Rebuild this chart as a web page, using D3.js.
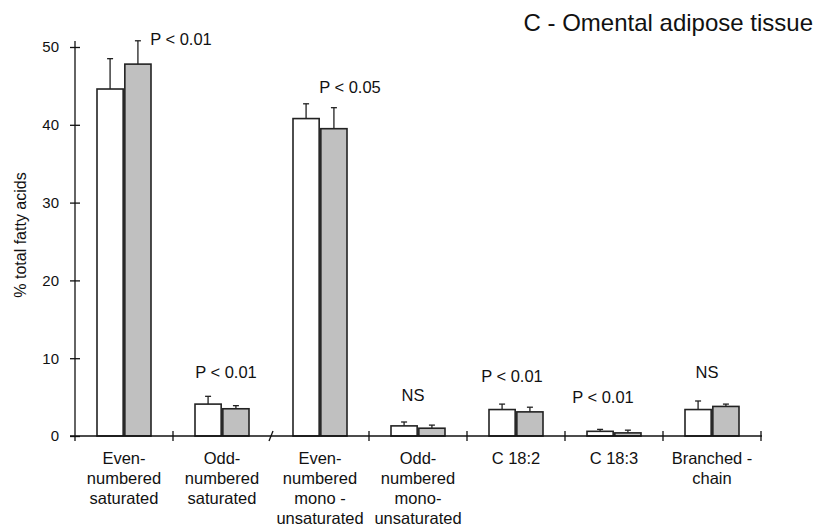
<!DOCTYPE html>
<html>
<head>
  <meta charset="utf-8">
  <title>Omental adipose tissue</title>
  <script src="https://d3js.org/d3.v7.min.js"></script>
  <style>
    body { margin: 0; background: #fff; }
    text { font-family: "Liberation Sans", Arial, sans-serif; fill: #111; }
  </style>
</head>
<body>
<div id="chart"></div>
<script>
  // data
  let categories = ['evenSat', 'oddSat', 'evenMono', 'oddMono', 'c182', 'c183', 'branched'];
  let categoryLabels = [
    ['Even-', 'numbered', 'saturated'],
    ['Odd-', 'numbered', 'saturated'],
    ['Even-', 'numbered', 'mono -', 'unsaturated'],
    ['Odd-', 'numbered', 'mono-', 'unsaturated'],
    ['C 18:2'],
    ['C 18:3'],
    ['Branched -', 'chain']
  ];
  let series = ['white', 'grey'];
  let whiteValues = [44.6, 4.1, 40.8, 1.3, 3.4, 0.6, 3.4];
  let whiteErrTop = [48.5, 5.1, 42.7, 1.8, 4.1, 0.85, 4.5];
  let greyValues = [47.8, 3.5, 39.5, 1.0, 3.1, 0.4, 3.8];
  let greyErrTop = [50.8, 3.9, 42.2, 1.4, 3.7, 0.75, 4.1];
  let pLabels = ['P < 0.01', 'P < 0.01', 'P < 0.05', 'NS', 'P < 0.01', 'P < 0.01', 'NS'];
  let pLevels = [50.3, 7.4, 44.1, 4.5, 7.0, 4.3, 7.4];
  let yTicks = [0, 10, 20, 30, 40, 50];

  let w = 819;
  let h = 531;
  // horizontal nudge of each p-label from its group centre (px)
  let pShift = [57, 4, 30, -5, -4, -11, -5];

  let svg = d3.select('#chart')
              .append('svg')
              .attr('width', w)
              .attr('height', h);

  let x = d3.scaleBand()
            .domain(categories)
            .range([75, 761])
            .padding(0);

  let bw = x.bandwidth();
  let xInner = d3.scaleBand()
                 .domain(series)
                 .range([bw / 2 - 27, bw / 2 + 27])
                 .paddingInner(0.06);

  let y = d3.scaleLinear()
            .domain([0, 50])
            .range([436, 47]);

  let rows = categories.map((c, i) => ({
    cat: c,
    bars: [
      {s: 'white', v: whiteValues[i], e: whiteErrTop[i]},
      {s: 'grey', v: greyValues[i], e: greyErrTop[i]}
    ]
  }));

  let groups = svg.selectAll('g.grp')
     .data(rows)
     .enter()
     .append('g')
     .attr('class', 'grp')
     .attr('transform', d => `translate(${x(d.cat)},0)`);

  // error bars (drawn first, bar outline covers the base)
  groups.selectAll('g.err')
     .data(d => d.bars)
     .enter()
     .append('g')
     .attr('class', 'err')
     .each(function(d) {
       let cx = xInner(d.s) + xInner.bandwidth() / 2;
       let g = d3.select(this);
       g.append('line')
        .attr('x1', cx).attr('x2', cx)
        .attr('y1', y(d.v)).attr('y2', y(d.e))
        .attr('stroke', '#222').attr('stroke-width', 1.3);
       g.append('line')
        .attr('x1', cx - 3).attr('x2', cx + 3)
        .attr('y1', y(d.e)).attr('y2', y(d.e))
        .attr('stroke', '#222').attr('stroke-width', 1.3);
     });

  groups.selectAll('rect')
     .data(d => d.bars)
     .enter()
     .append('rect')
     .attr('x', d => xInner(d.s))
     .attr('y', d => y(d.v))
     .attr('width', xInner.bandwidth())
     .attr('height', d => y(0) - y(d.v))
     .attr('fill', d => d.s === 'white' ? '#ffffff' : '#c0c0c0')
     .attr('stroke', '#222')
     .attr('stroke-width', 1.6);

  // y axis
  let yAxis = svg.append('g')
     .attr('transform', 'translate(75,0)')
     .call(d3.axisLeft(y).tickValues(yTicks).tickSize(5).tickSizeOuter(0).tickPadding(11));
  yAxis.select('.domain').remove();
  yAxis.selectAll('.tick line').attr('x1', 5).attr('stroke', '#111').attr('stroke-width', 1.3);
  yAxis.selectAll('.tick text')
     .attr('font-size', 15)
     .attr('font-family', '"Liberation Sans", Arial, sans-serif')
     .attr('fill', '#111');
  svg.append('line')
     .attr('x1', 75).attr('x2', 75)
     .attr('y1', 41).attr('y2', 441)
     .attr('stroke', '#111').attr('stroke-width', 1.3);

  // x axis line and group separators
  svg.append('line')
     .attr('x1', 70).attr('x2', 762)
     .attr('y1', y(0)).attr('y2', y(0))
     .attr('stroke', '#111').attr('stroke-width', 1.3);

  let seps = categories.slice(1).map(c => x(c)).concat([x.range()[1]]);
  svg.selectAll('line.sep')
     .data(seps)
     .enter()
     .append('line')
     .attr('class', 'sep')
     .attr('x1', (d, i) => i === 1 ? d - 2 : d)
     .attr('x2', (d, i) => i === 1 ? d + 2 : d)
     .attr('y1', y(0) + 5)
     .attr('y2', y(0) - 5)
     .attr('stroke', '#111')
     .attr('stroke-width', 1.3);

  // category labels
  svg.selectAll('text.cat')
     .data(categoryLabels)
     .enter()
     .append('text')
     .attr('class', 'cat')
     .attr('text-anchor', 'middle')
     .attr('font-size', 16.5)
     .attr('x', (d, i) => x(categories[i]) + bw / 2)
     .attr('y', 464)
     .selectAll('tspan')
     .data(d => d)
     .enter()
     .append('tspan')
     .attr('x', function() { return d3.select(this.parentNode).attr('x'); })
     .attr('dy', (d, i) => i === 0 ? 0 : 20)
     .text(d => d);

  // significance labels
  svg.selectAll('text.p')
     .data(pLabels)
     .enter()
     .append('text')
     .attr('class', 'p')
     .attr('text-anchor', 'middle')
     .attr('font-size', 16.5)
     .attr('x', (d, i) => x(categories[i]) + bw / 2 + pShift[i])
     .attr('y', (d, i) => y(pLevels[i]))
     .text(d => d);

  svg.append('text')
     .attr('x', 20)
     .attr('y', 235)
     .attr('transform', 'rotate(-90,20,235)')
     .attr('text-anchor', 'middle')
     .attr('dy', '0.35em')
     .attr('font-size', 16)
     .text('% total fatty acids');

  svg.append('text')
     .attr('x', 813)
     .attr('y', 31)
     .attr('text-anchor', 'end')
     .attr('font-size', 24)
     .text('C - Omental adipose tissue');
</script>
</body>
</html>
